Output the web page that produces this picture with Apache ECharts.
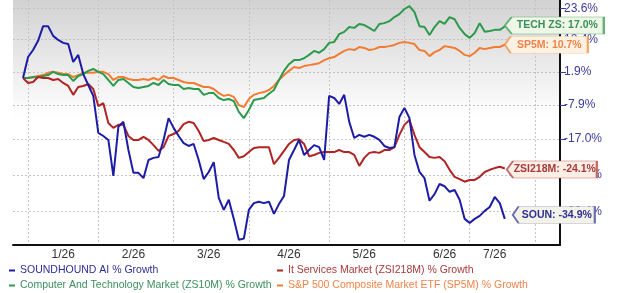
<!DOCTYPE html>
<html>
<head>
<meta charset="utf-8">
<script src="https://cdn.jsdelivr.net/npm/echarts@6/dist/echarts.min.js"></script>
<style>
  html, body { margin: 0; padding: 0; background: #fff; }
  #chart { width: 619px; height: 293px; }
</style>
</head>
<body>
<div id="chart"></div>
<script>
// x axis: trading-day slots, month labels and month grid lines sit on slot indexes
const xCount = 110;
const firstSlot = 2;
const xMonthLabels = ['1/26', '2/26', '3/26', '4/26', '5/26', '6/26', '7/26'];
const xMonthLabelSlots = [10, 24, 39, 55, 70, 86, 96];
const xGridSlots = [3, 17, 32, 47, 63, 78, 91, 104];

// y axis (log scale of growth), tick labels as printed
const yTickGrowth = [23.6, 12.4, 1.9, -7.9, -17.0, -25.6, -33.4];
const yTickLabels = ['23.6%', '12.4%', '1.9%', '-7.9%', '-17.0%', '-25.6%', '-33.4%'];

const seriesNames = [
    'SOUNDHOUND AI % Growth',
    'It Services Market (ZSI218M) % Growth',
    'Computer And Technology Market (ZS10M) % Growth',
    'S&P 500 Composite Market ETF (SP5M) % Growth'
];
const shortNames = ['SOUN', 'ZSI218M', 'TECH ZS', 'SP5M'];

// % growth since start
const soun = [
    0, 6.6, 8.9, 12.0, 17.1, 17.1, 13.7, 12.3, 11.3, 10.9,
    5.0, 7.3, 1.2, -2.1, -5.3, -15.4, -16.2, -17.2, -25.8, -13.8,
    -12.5, -19.7, -25.1, -25.1, -26.3, -22.1, -21.6, -21.4, -17.2, -11.5,
    -14.1, -16.2, -18.0, -18.7, -18.2, -22.1, -26.5, -24.9, -22.6, -30.6,
    -33.1, -31.0, -34.9, -38.9, -38.7, -33.1, -31.7, -31.4, -31.7, -31.4,
    -33.9, -31.9, -30.2, -22.1, -19.7, -17.2, -20.9, -19.7, -18.5, -19.0,
    -22.1, -5.3, -5.9, -7.6, -5.0, -12.5, -16.7, -15.9, -16.4, -15.9,
    -16.4, -17.2, -18.7, -19.2, -19.0, -11.2, -8.7, -11.5, -20.9, -24.9,
    -26.3, -31.2, -29.8, -27.6, -28.1, -29.3, -28.9, -31.0, -34.9, -35.7,
    -34.9, -34.3, -33.3, -32.5, -30.4, -31.7, -34.9
];
const zsi218m = [
    0, -1.5, -1.2, 0.3, 0, 0, -0.6, -0.3, -1.5, -2.4,
    -5.0, -2.7, -2.4, -1.8, -3.3, -8.2, -7.4, -12.8, -14.1, -13.3,
    -13.3, -16.2, -17.2, -17.2, -16.4, -17.2, -18.5, -19.9, -19.0, -16.2,
    -15.7, -14.9, -13.1, -12.5, -12.8, -14.9, -17.5, -17.2, -16.7, -17.2,
    -17.7, -18.2, -19.7, -21.6, -21.2, -20.2, -19.2, -19.0, -19.0, -19.0,
    -23.1, -21.6, -19.9, -18.2, -17.2, -17.0, -18.2, -21.2, -20.9, -20.4,
    -20.2, -20.2, -20.2, -19.7, -20.2, -20.2, -20.9, -23.5, -21.6, -20.4,
    -20.2, -20.4, -19.7, -19.7, -19.0, -15.9, -13.3, -12.0, -15.9, -19.0,
    -20.2, -21.4, -21.6, -21.4, -22.4, -24.4, -26.0, -26.5, -27.1, -26.7,
    -26.7, -26.0, -24.9, -24.4, -24.0, -23.7, -24.1
];
const zs10m = [
    0, 0, 0.2, 0.3, 0.6, 0.9, 1.9, 1.2, 0.9, 0.9,
    -0.9, 0.6, 1.2, 2.2, 2.8, 1.9, 1.2, -0.6, -2.4, -0.6,
    -0.3, -1.5, -2.7, -3.0, -2.7, -2.4, -1.5, -2.1, -0.6, -1.8,
    -2.1, -2.1, -3.3, -3.0, -3.3, -3.3, -5.0, -4.5, -4.5, -5.9,
    -6.5, -6.2, -6.8, -9.8, -11.5, -9.3, -6.5, -6.2, -5.9, -4.7,
    -3.6, -0.6, 2.2, 4.3, 5.6, 5.6, 6.2, 7.3, 8.6, 8.0,
    9.2, 11.3, 11.6, 14.3, 15.1, 16.8, 16.5, 17.9, 17.5, 16.5,
    15.4, 17.9, 18.2, 18.9, 20.4, 21.5, 23.4, 24.5, 22.2, 17.1,
    16.8, 14.0, 16.8, 18.9, 17.9, 20.4, 19.6, 16.5, 14.3, 13.0,
    14.7, 18.2, 15.1, 15.4, 15.8, 15.8, 17.0
];
const sp5m = [
    0, 0, 0.3, 0.6, 0.9, 1.6, 1.9, 1.6, 1.2, 1.2,
    0.3, 0.9, 1.6, 1.6, 1.6, 1.9, 1.9, 1.2, -0.6, 0.3,
    0.3, -0.3, -0.6, -0.6, -0.3, -0.6, 0, -0.6, 0.6, 0,
    0, -0.6, -1.2, -1.5, -1.5, -2.1, -2.7, -2.7, -3.3, -4.5,
    -5.3, -5.0, -5.6, -7.9, -8.5, -6.2, -5.0, -4.5, -4.2, -3.6,
    -2.4, -0.6, 0.9, 2.2, 3.4, 3.1, 3.7, 4.0, 4.3, 4.6,
    5.6, 6.2, 6.6, 7.6, 8.6, 9.2, 8.9, 9.9, 9.6, 8.9,
    9.2, 9.9, 9.9, 10.2, 10.6, 11.3, 11.6, 11.3, 10.9, 8.9,
    8.6, 6.9, 8.2, 8.9, 10.2, 9.9, 9.6, 8.6, 7.3, 6.9,
    8.0, 9.6, 9.2, 9.6, 9.9, 9.9, 10.7
];

const lineColors = ['#1c1ca6', '#b02424', '#2b9b4b', '#f47c32'];
const textColors = ['#2e2e96', '#a83a3a', '#3a8f5c', '#f08448'];
const boxFills = ['#f2f2e6', '#fbefe6', '#eef6e6', '#fdf1e2'];
const boxBorders = ['#6e6eb4', '#c46a6a', '#66b07a', '#f2a468'];

const xCats = Array.from({ length: xCount }, (_, i) => String(i));

function toSlots(growth) {
    const out = new Array(xCount).fill(null);
    growth.forEach((g, k) => { out[firstSlot + k] = 100 + g; });
    return out;
}

function endBox(idx, growth, width, dx, dy) {
    const last = growth[growth.length - 1];
    const slot = firstSlot + growth.length - 1;
    return {
        symbol: 'path://M0,8L7,0L100,0L100,16L7,16Z',
        symbolSize: [width, 17],
        symbolOffset: [width / 2 + dx, dy],
        silent: true,
        itemStyle: { color: boxFills[idx], borderColor: boxBorders[idx], borderWidth: 1 },
        label: {
            show: true,
            position: 'inside',
            offset: [3, 0],
            color: textColors[idx],
            fontFamily: 'Liberation Sans, Arial, sans-serif',
            fontWeight: 'bold',
            fontSize: 10.5,
            formatter: shortNames[idx] + ': ' + last.toFixed(1) + '%'
        },
        data: [{ coord: [xCats[slot], 100 + last] }]
    };
}

const allGrowth = [soun, zsi218m, zs10m, sp5m];
const boxGeom = [[82, 8, -4], [90, 2, 1], [99, 0, -1], [83, 0, 0]];

const chart = echarts.init(document.getElementById('chart'), null, { renderer: 'canvas' });

chart.setOption({
    animation: false,
    textStyle: { fontFamily: 'Liberation Sans, Arial, sans-serif' },
    grid: {
        left: 13, right: 59, top: 0, bottom: 48,
        show: true,
        borderWidth: 0,
        backgroundColor: {
            type: 'linear', x: 0, y: 0, x2: 0, y2: 1,
            colorStops: [
                { offset: 0, color: '#d2d2d2' },
                { offset: 0.48, color: '#ffffff' },
                { offset: 1, color: '#ffffff' }
            ]
        }
    },
    legend: [
        {
            orient: 'vertical', left: 9, top: 264, padding: 0,
            icon: 'rect', itemWidth: 6, itemHeight: 2, itemGap: 2,
            textStyle: { fontSize: 10.5, lineHeight: 13 },
            data: [
                { name: seriesNames[0], textStyle: { color: textColors[0] } },
                { name: seriesNames[2], textStyle: { color: textColors[2] } }
            ]
        },
        {
            orient: 'vertical', left: 277, top: 264, padding: 0,
            icon: 'rect', itemWidth: 6, itemHeight: 2, itemGap: 2,
            textStyle: { fontSize: 10.5, lineHeight: 13 },
            data: [
                { name: seriesNames[1], textStyle: { color: textColors[1] } },
                { name: seriesNames[3], textStyle: { color: textColors[3] } }
            ]
        }
    ],
    xAxis: {
        type: 'category',
        data: xCats,
        boundaryGap: false,
        axisLine: { lineStyle: { color: '#111', width: 2 } },
        axisTick: { show: false },
        axisLabel: {
            interval: (i) => xMonthLabelSlots.includes(i),
            formatter: (v, i) => xMonthLabels[xMonthLabelSlots.indexOf(Number(v))] || '',
            color: '#333',
            fontSize: 12,
            margin: 4
        },
        splitLine: {
            show: true,
            interval: (i) => xGridSlots.includes(i),
            lineStyle: { color: '#c4c4c4', type: [2, 2], width: 1 }
        }
    },
    yAxis: {
        type: 'log',
        position: 'right',
        min: 60.12,
        max: 126.83,
        axisLine: { show: true, lineStyle: { color: '#111', width: 2 } },
        axisTick: {
            show: true, length: 6,
            customValues: yTickGrowth.map(g => 100 + g),
            lineStyle: { color: '#3a3a9c' }
        },
        axisLabel: {
            customValues: yTickGrowth.map(g => 100 + g),
            formatter: (v) => {
                let best = 0;
                yTickGrowth.forEach((g, k) => {
                    if (Math.abs(100 + g - v) < Math.abs(100 + yTickGrowth[best] - v)) best = k;
                });
                return yTickLabels[best];
            },
            color: '#3a3a9c',
            fontSize: 12,
            margin: 4
        },
        splitLine: { show: true, lineStyle: { color: '#c4c4c4', type: [2, 2], width: 1 } }
    },
    series: allGrowth.map((g, i) => ({
        name: seriesNames[i],
        type: 'line',
        data: toSlots(g),
        showSymbol: false,
        color: lineColors[i],
        lineStyle: { width: 2, color: lineColors[i] },
        z: 10 - i,
        markPoint: endBox(i, g, boxGeom[i][0], boxGeom[i][1], boxGeom[i][2])
    })).reverse()
});
</script>
</body>
</html>
